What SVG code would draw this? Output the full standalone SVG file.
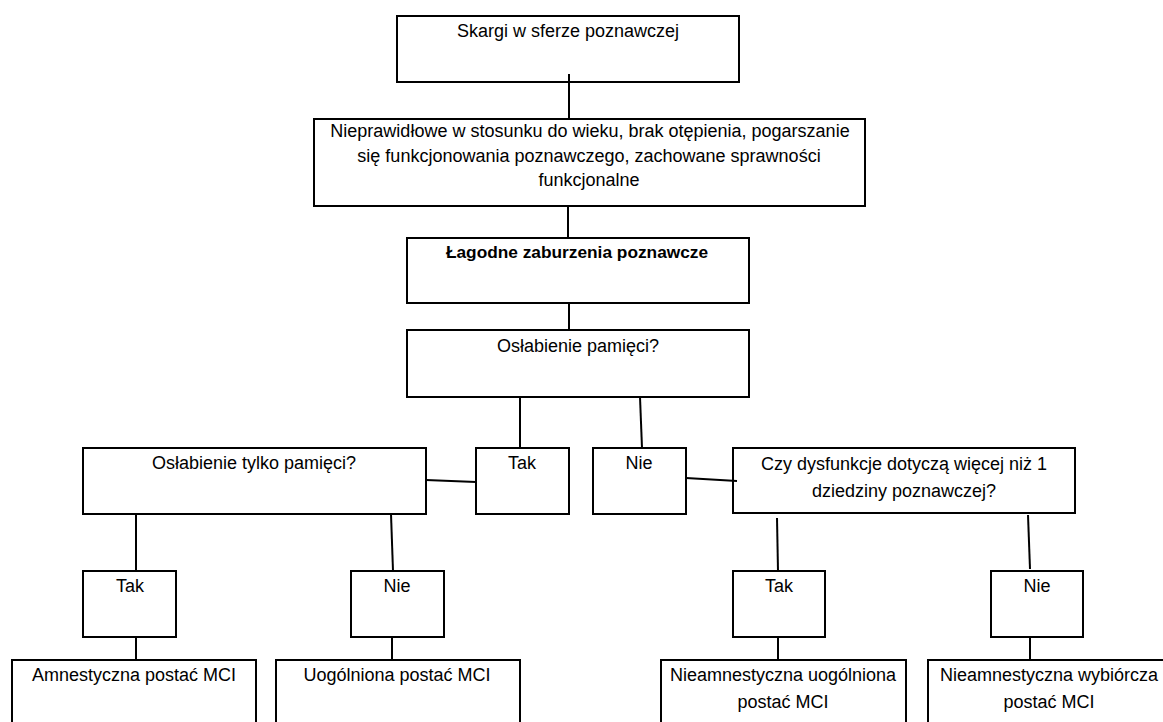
<svg xmlns="http://www.w3.org/2000/svg" width="1163" height="722" viewBox="0 0 1163 722">
<style>
.box{fill:#fff;stroke:#000;stroke-width:2}
.t{font-family:"Liberation Sans",Arial,sans-serif;font-size:18px;fill:#000;text-anchor:middle}
.b{font-weight:bold;font-size:17.3px}
.c line{stroke:#000;stroke-width:2}
</style>
<rect width="1163" height="722" fill="#fff"/>
<g id="n1"><rect class="box" x="397" y="16" width="342" height="66"/><text class="t" x="568" y="37">Skargi w sferze poznawczej</text></g>
<g id="n2"><rect class="box" x="314" y="119" width="551" height="87"/><text class="t" x="590" y="137">Nieprawidłowe w stosunku do wieku, brak otępienia, pogarszanie</text><text class="t" x="589" y="162">się funkcjonowania poznawczego, zachowane sprawności</text><text class="t" x="589" y="186">funkcjonalne</text></g>
<g id="n3"><rect class="box" x="407" y="238" width="342" height="65"/><text class="t b" x="577" y="258">Łagodne zaburzenia poznawcze</text></g>
<g id="n4"><rect class="box" x="407" y="330" width="342" height="67"/><text class="t" x="578" y="352">Osłabienie pamięci?</text></g>
<g id="n5"><rect class="box" x="83" y="448" width="343" height="66"/><text class="t" x="254" y="469">Osłabienie tylko pamięci?</text></g>
<g id="n6"><rect class="box" x="476" y="448" width="93" height="66"/><text class="t" x="522" y="469">Tak</text></g>
<g id="n7"><rect class="box" x="593" y="448" width="93" height="66"/><text class="t" x="639" y="469">Nie</text></g>
<g id="n8"><rect class="box" x="733" y="448" width="342" height="65"/><text class="t" x="904" y="470">Czy dysfunkcje dotyczą więcej niż 1</text><text class="t" x="904" y="497">dziedziny poznawczej?</text></g>
<g id="n9"><rect class="box" x="83" y="571" width="93" height="66"/><text class="t" x="130" y="592">Tak</text></g>
<g id="n10"><rect class="box" x="351" y="571" width="93" height="66"/><text class="t" x="397" y="592">Nie</text></g>
<g id="n11"><rect class="box" x="733" y="571" width="92" height="66"/><text class="t" x="779" y="592">Tak</text></g>
<g id="n12"><rect class="box" x="991" y="571" width="92" height="66"/><text class="t" x="1037" y="592">Nie</text></g>
<g id="n13"><rect class="box" x="12" y="660" width="244" height="80"/><text class="t" x="134" y="681">Amnestyczna postać MCI</text></g>
<g id="n14"><rect class="box" x="276" y="660" width="244" height="80"/><text class="t" x="397" y="681">Uogólniona postać MCI</text></g>
<g id="n15"><rect class="box" x="661" y="660" width="245" height="80"/><text class="t" x="783" y="681">Nieamnestyczna uogólniona</text><text class="t" x="783" y="708">postać MCI</text></g>
<g id="n16"><rect class="box" x="928" y="660" width="250" height="80"/><text class="t" x="1049" y="681">Nieamnestyczna wybiórcza</text><text class="t" x="1049" y="708">postać MCI</text></g>
<g id="connectors" class="c">
<line x1="569" y1="74" x2="569" y2="119"/>
<line x1="568" y1="206" x2="568" y2="238"/>
<line x1="569" y1="303" x2="569" y2="330"/>
<line x1="520" y1="397" x2="520" y2="448"/>
<line x1="640" y1="397" x2="642" y2="448"/>
<line x1="426" y1="480" x2="476" y2="482"/>
<line x1="686" y1="478" x2="737" y2="481"/>
<line x1="136" y1="514" x2="136" y2="571"/>
<line x1="391" y1="514" x2="393" y2="571"/>
<line x1="777" y1="518" x2="778" y2="571"/>
<line x1="1028" y1="515" x2="1030" y2="569"/>
<line x1="136" y1="637" x2="136" y2="660"/>
<line x1="392" y1="637" x2="392" y2="660"/>
<line x1="778" y1="637" x2="778" y2="660"/>
<line x1="1030" y1="636" x2="1030" y2="660"/>
</g>
</svg>
